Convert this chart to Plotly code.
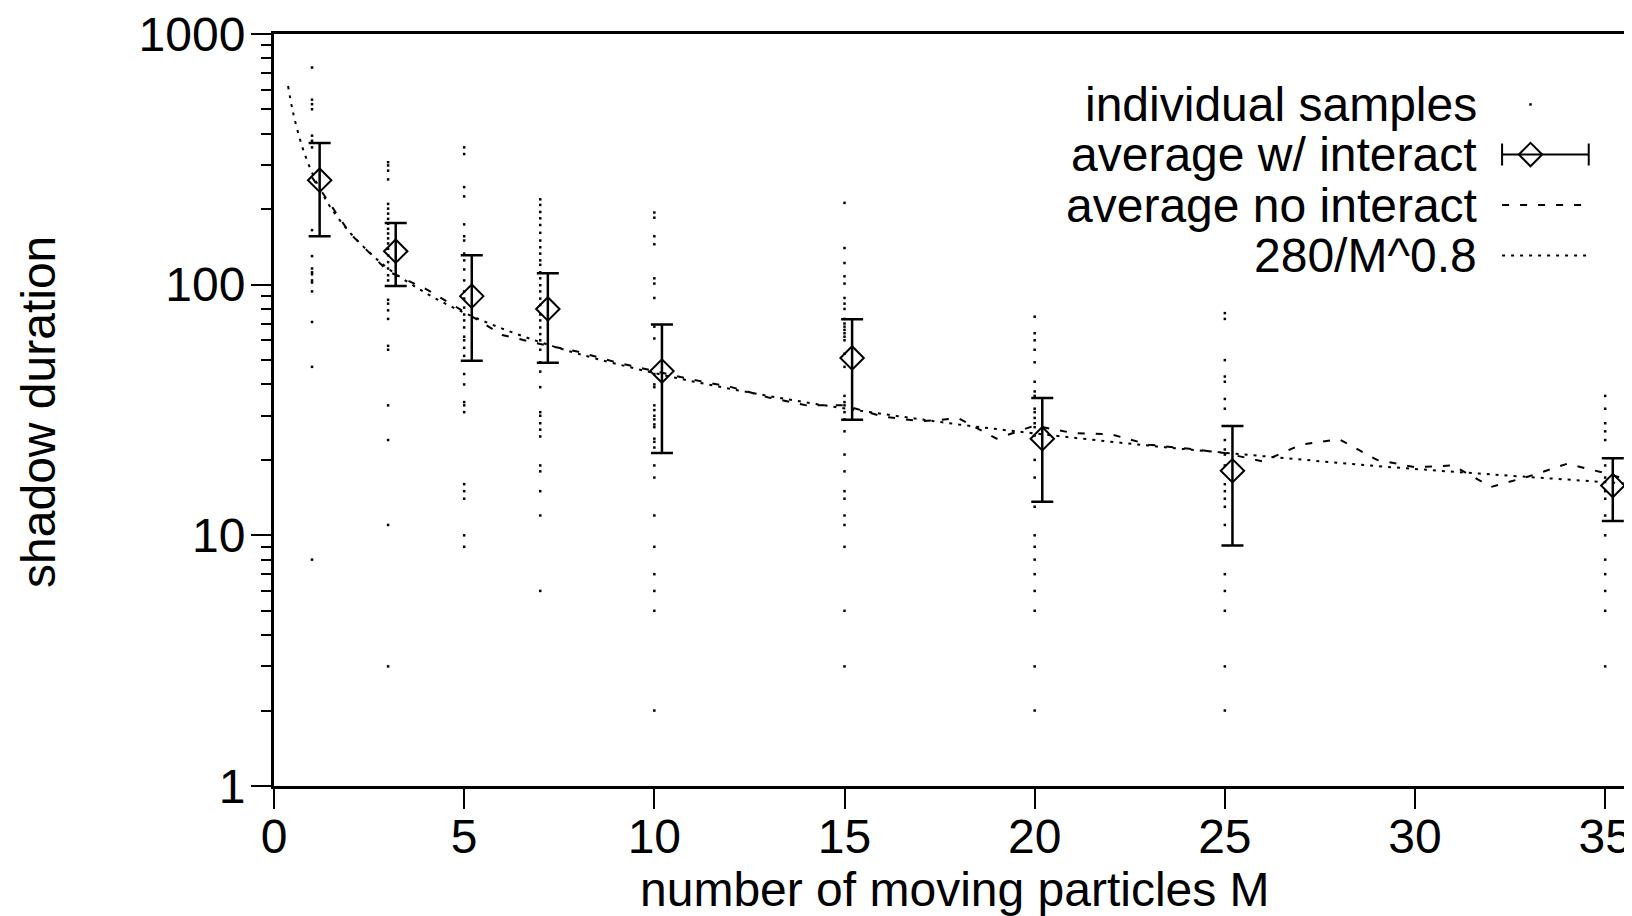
import plotly.graph_objects as go

# ---------------- data ----------------
# individual samples, one list per number of moving particles M
samples_M1 = [735, 547, 525, 501, 393, 375, 353, 165, 130, 116, 112, 110, 104, 102, 94, 71, 47, 8]
samples_M3 = [308, 299, 285, 263, 210, 201, 192, 183, 175, 167, 160, 153, 146, 139, 131, 123, 116,
              109, 104, 87, 84, 79, 73, 57, 55, 33, 24, 11, 3]
samples_M5 = [353, 332, 245, 225, 174, 156, 150, 133, 125, 115, 104, 94, 88, 81, 76, 72, 67.5, 62,
              60, 56, 52, 44, 40, 34, 33, 31, 16, 15, 14, 10, 9]
samples_M7 = [219, 208, 195, 184, 173, 161, 150, 141, 133, 125, 120, 112, 106, 99.5, 94, 88, 83, 76,
              72, 67.5, 63.5, 60, 55, 49, 45, 39, 31, 30, 28, 26.4, 24.8, 19, 18, 15, 12, 6]
samples_M10 = [194, 185, 156, 145, 106, 101, 88.5, 68, 61, 44, 40, 39, 33, 31.6, 30, 29, 27.7, 27,
               24.3, 23.6, 22.4, 19, 17, 12, 9, 7, 6, 5, 2]
samples_M15 = [212, 140, 122, 108, 101, 88.5, 84, 80, 73, 70, 68, 66, 64, 62, 60, 53, 47, 36, 34,
               33, 31, 29, 26, 21, 18, 15, 14, 12, 11, 9, 5, 3]
samples_M20 = [74.5, 64, 60, 55, 49, 41, 37.5, 36, 32, 31, 29.4, 28, 27, 25, 20, 17, 13, 10, 9, 8,
               7, 6, 5, 3, 2]
samples_M25 = [77, 73, 50, 43, 41, 35, 32, 24, 22, 21, 19, 16, 15, 14, 13, 11, 7, 6, 5, 3, 2]
samples_M35 = [36, 32, 28, 26, 24, 19, 17, 15, 14, 12, 10, 8, 7, 6, 5, 3]
sample_groups = {1: samples_M1, 3: samples_M3, 5: samples_M5, 7: samples_M7, 10: samples_M10,
                 15: samples_M15, 20: samples_M20, 25: samples_M25, 35: samples_M35}

# averages with interaction (plotted slightly offset in M) and their error bars
avg_x = [1.2, 3.2, 5.2, 7.2, 10.2, 15.2, 20.2, 25.2, 35.2]
avg_y = [261, 136, 90, 80, 45.2, 51, 24.3, 18.1, 15.8]
avg_hi = [367, 176, 131, 111, 69.4, 72.8, 35.3, 27.3, 20.3]
avg_lo = [156, 98.7, 49.7, 48.8, 21.3, 28.9, 13.6, 9.1, 11.4]

# averages without interaction
noint_x = list(range(1, 37))
noint_y = [268, 160, 113, 96, 78, 63, 58, 54, 49, 45.3, 41.8, 39.1, 35.5, 33.0, 33.0, 29.8, 28.5,
           29.3, 24.3, 27.4, 25.6, 25.3, 23.0, 22.2, 21.3, 19.7, 23.0, 24.2, 20.0, 18.7, 19.0, 15.6,
           17.2, 19.3, 17.7, 16.0]

# curve 280/M^0.8
fit_x = [0.37, 0.5, 0.75, 1, 1.25, 1.5, 2, 2.5, 3, 4, 5, 6, 7, 8, 10, 12, 14, 16, 18, 20, 23, 26,
         29, 32, 35, 36]
fit_y = [620, 487, 352, 280, 234, 202, 161, 135, 116, 92.4, 77.3, 66.8, 59.0, 53.0, 44.4, 38.4,
         33.9, 30.5, 27.7, 25.5, 22.8, 20.7, 18.9, 17.5, 16.3, 15.9]

x_ticks = [0, 5, 10, 15, 20, 25, 30, 35]
legend_labels = ["individual samples", "average w/ interact", "average no interact", "280/M^0.8"]

FONT = "Liberation Sans, Arial, Helvetica, sans-serif"
FS = 48
DOT_DASH = "3px,6px"
DASH_DASH = "7px,11px"

fig = go.Figure()

# individual samples
sx, sy = [], []
for m, vals in sample_groups.items():
    sx += [m] * len(vals)
    sy += vals
fig.add_trace(go.Scatter(x=sx, y=sy, mode="markers",
                         marker=dict(symbol="square", size=2.5, color="black", line=dict(width=0)),
                         showlegend=False, hoverinfo="skip"))

# average no interact
fig.add_trace(go.Scatter(x=noint_x, y=noint_y, mode="lines",
                         line=dict(color="black", width=2, dash=DASH_DASH), showlegend=False))

# fit
fig.add_trace(go.Scatter(x=fit_x, y=fit_y, mode="lines", line_shape="spline",
                         line=dict(color="black", width=2, dash=DOT_DASH), showlegend=False))

# averages w/ interact
fig.add_trace(go.Scatter(
    x=avg_x, y=avg_y, mode="markers",
    marker=dict(symbol="diamond-open", size=18, color="black", line=dict(width=2, color="black")),
    error_y=dict(type="data", symmetric=False,
                 array=[h - a for h, a in zip(avg_hi, avg_y)],
                 arrayminus=[a - l for a, l in zip(avg_y, avg_lo)],
                 color="black", thickness=2.5, width=11),
    showlegend=False, cliponaxis=False))

# ---- hand-drawn key (symbol to the right of right-aligned text) ----
key_y = [0.9063, 0.8397, 0.7725, 0.7053]
key_x0, key_x1, key_pt = 0.907, 0.971, 0.928
fig.add_trace(go.Scatter(x=[key_pt], y=[key_y[0]], xaxis="x2", yaxis="y2", mode="markers",
                         marker=dict(symbol="square", size=2.5, color="black", line=dict(width=0)),
                         showlegend=False, hoverinfo="skip"))
fig.add_trace(go.Scatter(x=[key_pt], y=[key_y[1]], xaxis="x2", yaxis="y2", mode="markers",
                         marker=dict(symbol="diamond-open", size=18, color="black",
                                     line=dict(width=2, color="black")),
                         error_x=dict(type="data", symmetric=False, array=[key_x1 - key_pt],
                                      arrayminus=[key_pt - key_x0], color="black",
                                      thickness=2, width=11),
                         showlegend=False, hoverinfo="skip"))
fig.add_trace(go.Scatter(x=[key_x0, key_x1], y=[key_y[2]] * 2, xaxis="x2", yaxis="y2", mode="lines",
                         line=dict(color="black", width=2, dash=DASH_DASH),
                         showlegend=False, hoverinfo="skip"))
fig.add_trace(go.Scatter(x=[key_x0, key_x1], y=[key_y[3]] * 2, xaxis="x2", yaxis="y2", mode="lines",
                         line=dict(color="black", width=2, dash=DOT_DASH),
                         showlegend=False, hoverinfo="skip"))

annotations = []
for lab, yy in zip(legend_labels, key_y):
    annotations.append(dict(text=lab, x=0.890, y=yy, xref="paper", yref="paper",
                            xanchor="right", yanchor="middle", showarrow=False,
                            font=dict(family=FONT, size=FS, color="black")))
annotations.append(dict(text="number of moving particles M", x=0.503, y=-0.138, xref="paper",
                        yref="paper", xanchor="center", yanchor="middle", showarrow=False,
                        font=dict(family=FONT, size=FS, color="black")))
annotations.append(dict(text="shadow duration", x=-0.1738, y=0.497, xref="paper", yref="paper",
                        xanchor="center", yanchor="middle", textangle=-90, showarrow=False,
                        font=dict(family=FONT, size=FS, color="black")))

# the page body has an 8px margin, so the figure is shifted by 8px; compensate here
fig.update_layout(
    width=1624, height=908,
    margin=dict(l=266, r=0, t=23, b=130, pad=0),
    paper_bgcolor="white", plot_bgcolor="white",
    font=dict(family=FONT, size=FS, color="black"),
    showlegend=False,
    annotations=annotations,
    xaxis=dict(range=[0, 35.6], tickmode="array", tickvals=x_ticks,
               ticks="outside", ticklen=20, tickwidth=2, tickcolor="black",
               ticklabeloverflow="allow", ticklabelstandoff=-14,
               showline=True, linewidth=3, linecolor="black", mirror=True,
               showgrid=False, zeroline=False, tickfont=dict(family=FONT, size=FS)),
    yaxis=dict(type="log", range=[0, 3], tickmode="linear", tick0=0, dtick=1,
               exponentformat="none", separatethousands=False,
               ticks="outside", ticklen=20, tickwidth=2, tickcolor="black",
               minor=dict(ticks="outside", ticklen=10, tickwidth=2, tickcolor="black",
                          dtick="D1", showgrid=False),
               showline=True, linewidth=3, linecolor="black", mirror=False,
               showgrid=False, zeroline=False, ticklabelstandoff=-4,
               ticklabeloverflow="allow",
               tickfont=dict(family=FONT, size=FS)),
    xaxis2=dict(overlaying="x", anchor="y2", range=[0, 1], visible=False),
    yaxis2=dict(overlaying="y", anchor="x2", range=[0, 1], visible=False),
)

fig.write_html("out.html")
